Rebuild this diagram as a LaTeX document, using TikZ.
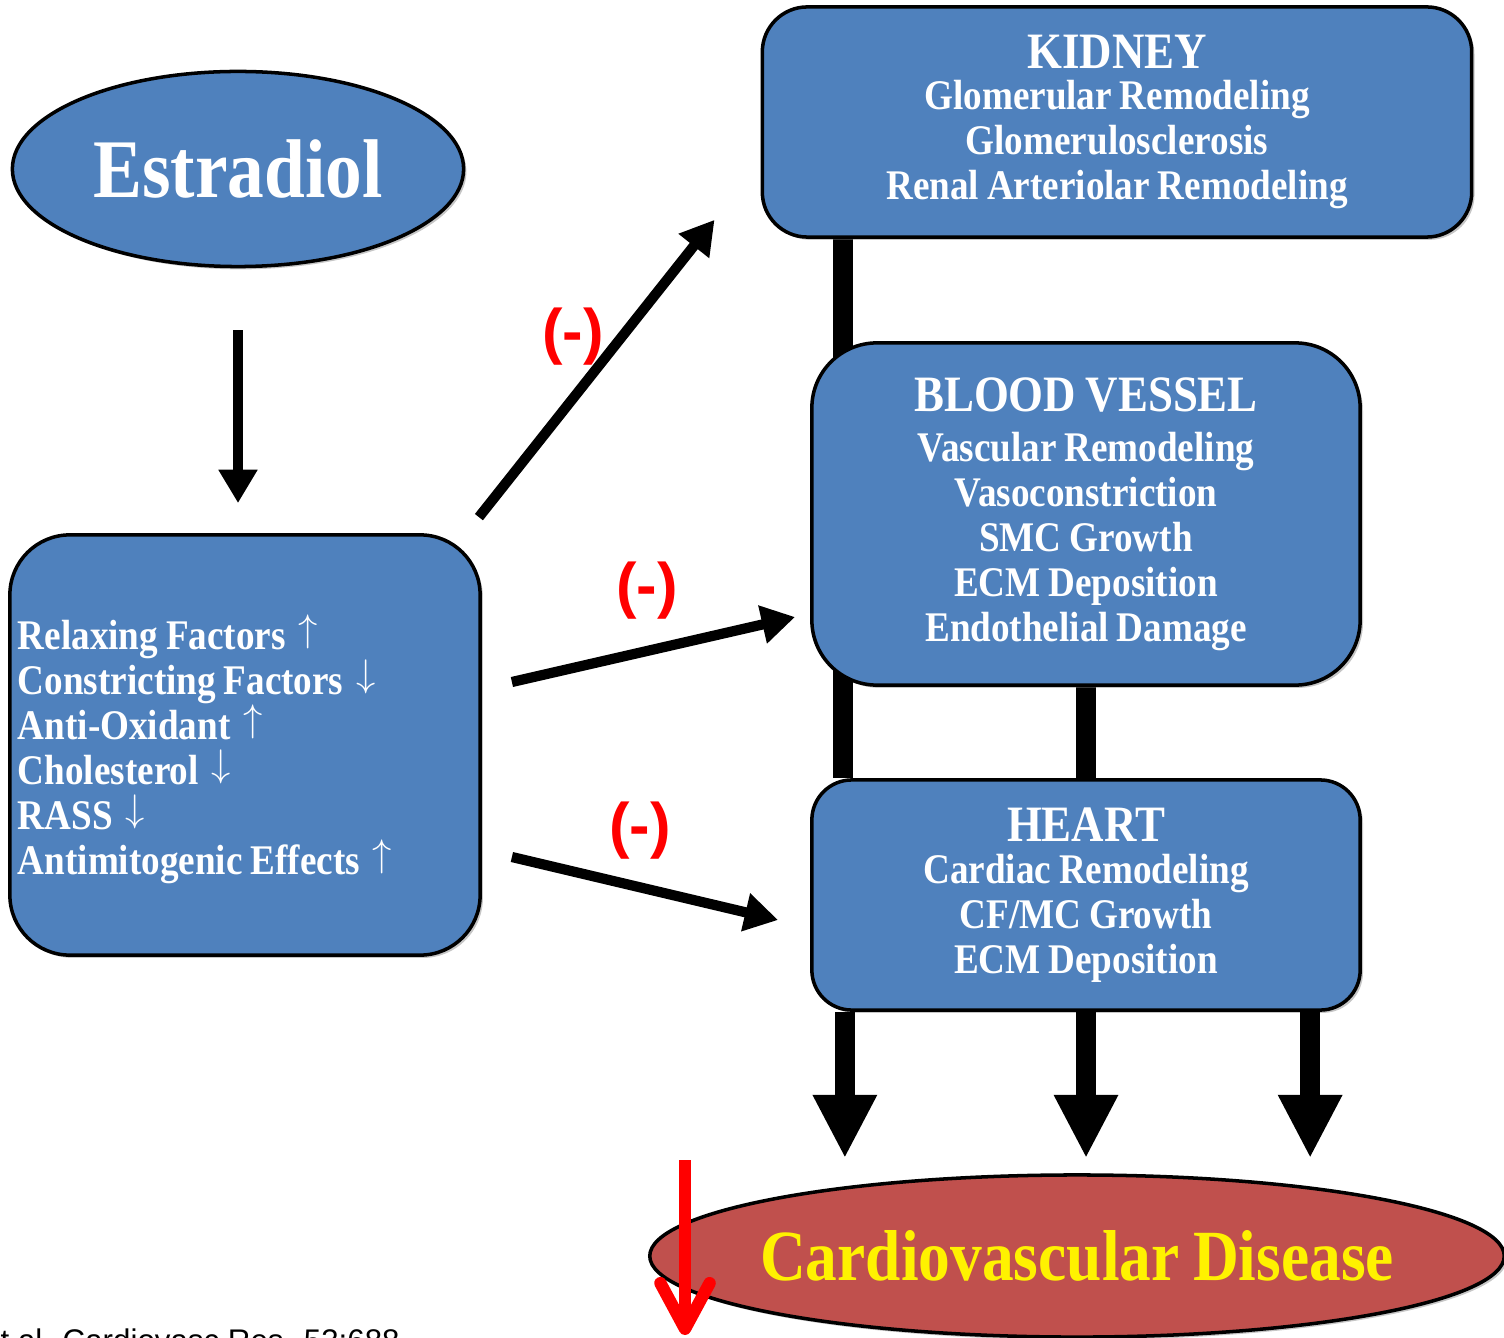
\documentclass[tikz,border=0pt]{standalone}
\usepackage{fontspec}
\setmainfont{Liberation Serif}
\newfontfamily\boxfont[FakeStretch=0.88, WordSpace=0.85]{Liberation Serif}
\newfontfamily\signfont{Liberation Sans}
\usetikzlibrary{arrows.meta,shapes.geometric,shadows,backgrounds}
\definecolor{organblue}{HTML}{4F81BD}
\definecolor{diseasered}{HTML}{C0504D}
\newcommand{\up}{\hspace{0.12em}\smash{\raisebox{0.2em}{\fontsize{10.5}{11}\selectfont$\uparrow$}}}
\newcommand{\dn}{\hspace{0.12em}\smash{\raisebox{0.2em}{\fontsize{10.5}{11}\selectfont$\downarrow$}}}

\begin{document}
\begin{tikzpicture}[x=0.01cm, y=0.01cm,
    organ/.style={draw=black, line width=1pt, fill=organblue, text=white, align=center,
        font=\boxfont\bfseries\fontsize{12}{12.8}\selectfont,
        drop shadow={shadow xshift=0.8pt, shadow yshift=-0.8pt, opacity=0.45}},
    thinarrow/.style={line width=2.9pt, -{Triangle[length=9.5pt, width=10.5pt]}},
    fatbar/.style={line width=5.7pt},
    fatarrow/.style={line width=5.7pt, -{Triangle[length=18pt, width=17pt]}},
    minus/.style={text=red, font=\signfont\bfseries\fontsize{17.5}{17.5}\selectfont}]
    \useasboundingbox (0,0) rectangle (1504,-1337);

    \node[organ, ellipse, minimum width=4.51cm, minimum height=1.95cm,
        font=\boxfont\bfseries\fontsize{23.7}{24}\selectfont] (est) at (238,-169) {Estradiol};
    \node[organ, rounded corners=0.6cm, minimum width=4.70cm, minimum height=4.20cm,
        text width=4.54cm, inner xsep=0.08cm, align=flush left] (list) at (245,-745)
        {\rule{0pt}{12.5pt}Relaxing Factors \up\\ Constricting Factors \dn\\ Anti-Oxidant \up\\
         Cholesterol \dn\\ RASS \dn\\ Antimitogenic Effects \up};
    \node[organ, rounded corners=0.45cm, minimum width=7.09cm, minimum height=2.30cm] (kid)
        at (1117,-122) {{\fontsize{14.5}{12.8}\selectfont KIDNEY}\\[-1pt]
        Glomerular Remodeling\\ Glomerulosclerosis\\ Renal Arteriolar Remodeling};
    \node[organ, rounded corners=0.65cm, minimum width=5.48cm, minimum height=3.42cm] (blood)
        at (1086,-514) {{\fontsize{14.5}{12.8}\selectfont BLOOD VESSEL}\\[1.5pt]
        Vascular Remodeling\\ Vasoconstriction\\ SMC Growth\\ ECM Deposition\\ Endothelial Damage};
    \node[organ, rounded corners=0.4cm, minimum width=5.48cm, minimum height=2.30cm] (heart)
        at (1086,-895) {{\fontsize{14.5}{12.8}\selectfont HEART}\\[-1pt]
        Cardiac Remodeling\\ CF/MC Growth\\ ECM Deposition};
    \node[organ, ellipse, fill=diseasered, text=yellow, minimum width=8.54cm, minimum height=1.62cm,
        inner xsep=-0.4cm, font=\boxfont\bfseries\fontsize{20.5}{21}\selectfont] (cvd)
        at (1077,-1256) {Cardiovascular Disease};

    \begin{scope}[on background layer]
        \draw[fatbar] ([xshift=0.82cm]kid.south west) -- ([xshift=0.82cm]kid.south west |- heart.north);
        \draw[fatbar] (blood.south) -- (heart.north);
    \end{scope}
    \draw[fatarrow, shorten >=0.15cm] ([xshift=-2.41cm]heart.south) -- ([xshift=-2.41cm]heart.south |- cvd.north);
    \draw[fatarrow, shorten >=0.15cm] (heart.south) -- (heart.south |- cvd.north);
    \draw[fatarrow, shorten >=0.15cm] ([xshift=2.24cm]heart.south) -- ([xshift=2.24cm]heart.south |- cvd.north);

    \draw[thinarrow, shorten <=0.62cm, shorten >=0.3cm] (est.south) -- (est.south |- list.north);
    \draw[thinarrow] ([shift={(-3,16)}]list.north east) -- ([shift={(-46,19)}]kid.south west);
    \draw[thinarrow] ([shift={(30,63)}]list.east) -- ([shift={(-15,-103)}]blood.west);
    \draw[thinarrow] ([shift={(30,-112)}]list.east) -- ([shift={(-32,-25)}]heart.west);

    \node[minus] (neg1) at (573,-337) {(-)};
    \node[minus] (neg2) at (647,-591) {(-)};
    \node[minus] (neg3) at (640,-831) {(-)};

    \coordinate (downtop) at (685,-1160);
    \coordinate (downtip) at (685,-1335);
    \draw[red, line width=3.5pt, -{Straight Barb[length=13pt, width=14pt, round]}]
        (downtop) -- (downtip);

    \node[anchor=base west, inner sep=0pt, font=\signfont\fontsize{8.9}{9}\selectfont] (cite)
        at (0,-1351) {t al. Cardiovasc Res. 53:688};
\end{tikzpicture}
\end{document}
